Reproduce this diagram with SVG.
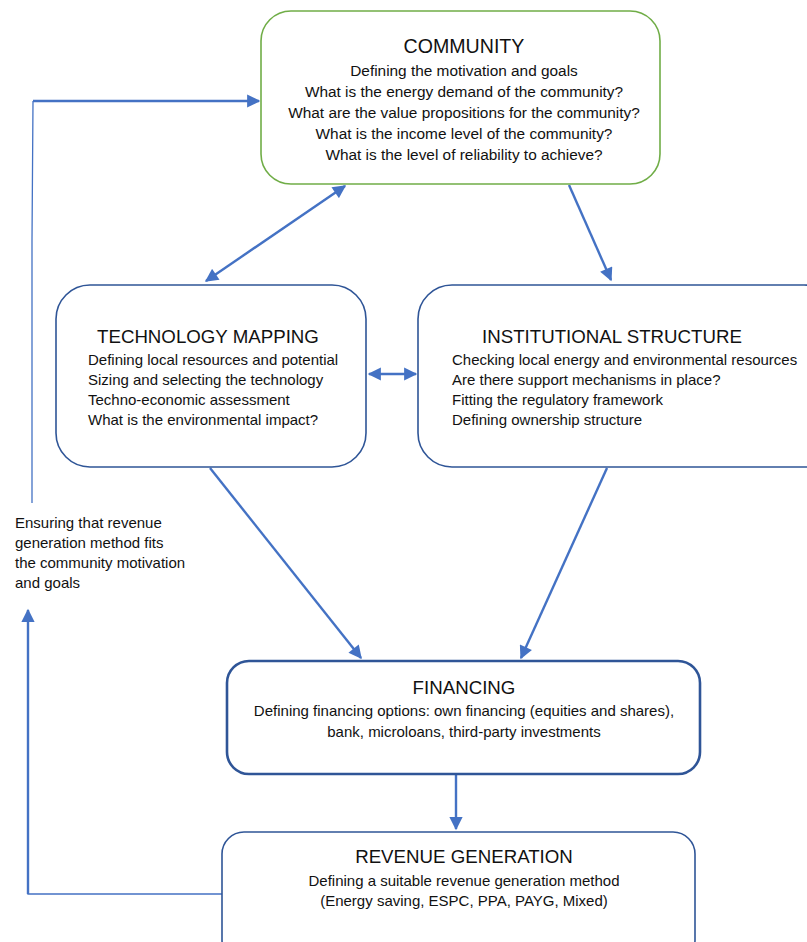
<svg xmlns="http://www.w3.org/2000/svg" width="807" height="942" viewBox="0 0 807 942">
<style>
  .box{fill:#fff;stroke:#2F5597;stroke-width:1.6}
  .t{font-family:"Liberation Sans",Arial,sans-serif;font-size:18.7px;fill:#111}
  .b{font-family:"Liberation Sans",Arial,sans-serif;font-size:15px;fill:#111}
  .cb{font-size:15.4px}
  .c{text-anchor:middle}
  .ln{stroke:#4472C4;stroke-width:2.4;fill:none}
  .thin{stroke:#4472C4;stroke-width:1.3;fill:none}
</style>
<defs>
  <marker id="ah" viewBox="0 0 10 10" refX="9" refY="5" markerWidth="6" markerHeight="5.5" orient="auto-start-reverse" markerUnits="strokeWidth">
    <path d="M0,0 L10,5 L0,10 z" fill="#4472C4"/>
  </marker>
</defs>
<g id="connectors">
  <line class="ln" x1="345" y1="186" x2="206" y2="281" marker-start="url(#ah)" marker-end="url(#ah)"/>
  <line class="ln" x1="569" y1="185" x2="611" y2="280" marker-end="url(#ah)"/>
  <line class="ln" x1="369" y1="374" x2="416" y2="374" marker-start="url(#ah)" marker-end="url(#ah)"/>
  <line class="ln" x1="210" y1="468" x2="361" y2="658" marker-end="url(#ah)"/>
  <line class="ln" x1="607" y1="468" x2="521" y2="658" marker-end="url(#ah)"/>
  <line class="ln" x1="456" y1="775" x2="456" y2="829" marker-end="url(#ah)"/>
  <polyline class="thin" points="222,894 28,894 28,840"/>
  <line class="ln" x1="28" y1="894" x2="28" y2="610" marker-end="url(#ah)"/>
  <polyline class="thin" points="32,503 32,240 33,101"/>
  <line class="ln" x1="33" y1="101" x2="259" y2="101" marker-end="url(#ah)"/>
</g>
<g id="community">
  <rect x="261" y="11" width="399" height="173" rx="30" fill="#fff" stroke="#70AD47" stroke-width="1.6"/>
  <text class="t c" x="464" y="53" style="font-size:19.6px">COMMUNITY</text>
  <text class="b cb c" x="464" y="76">Defining the motivation and goals</text>
  <text class="b cb c" x="464" y="97">What is the energy demand of the community?</text>
  <text class="b cb c" x="464" y="118">What are the value propositions for the community?</text>
  <text class="b cb c" x="464" y="139">What is the income level of the community?</text>
  <text class="b cb c" x="464" y="160">What is the level of reliability to achieve?</text>
</g>
<g id="technology">
  <rect class="box" x="56" y="285" width="310" height="182" rx="34"/>
  <text class="t" x="97" y="343">TECHNOLOGY MAPPING</text>
  <text class="b" x="88" y="365">Defining local resources and potential</text>
  <text class="b" x="88" y="385">Sizing and selecting the technology</text>
  <text class="b" x="88" y="405">Techno-economic assessment</text>
  <text class="b" x="88" y="425">What is the environmental impact?</text>
</g>
<g id="institutional">
  <rect class="box" x="418" y="285" width="420" height="182" rx="34"/>
  <text class="t" x="482" y="343">INSTITUTIONAL STRUCTURE</text>
  <text class="b" x="452" y="365">Checking local energy and environmental resources</text>
  <text class="b" x="452" y="385">Are there support mechanisms in place?</text>
  <text class="b" x="452" y="405">Fitting the regulatory framework</text>
  <text class="b" x="452" y="425">Defining ownership structure</text>
</g>
<g id="financing">
  <rect x="227" y="661" width="473" height="113" rx="22" fill="#fff" stroke="#2F5597" stroke-width="2.6"/>
  <text class="t c" x="464" y="694">FINANCING</text>
  <text class="b c" x="464" y="716">Defining financing options: own financing (equities and shares),</text>
  <text class="b c" x="464" y="737">bank, microloans, third-party investments</text>
</g>
<g id="revenue">
  <rect class="box" x="222" y="832" width="473" height="130" rx="22"/>
  <text class="t c" x="464" y="863">REVENUE GENERATION</text>
  <text class="b c" x="464" y="886">Defining a suitable revenue generation method</text>
  <text class="b c" x="464" y="906">(Energy saving, ESPC, PPA, PAYG, Mixed)</text>
</g>
<g id="loop-label">
  <text class="b" x="15" y="528">Ensuring that revenue</text>
  <text class="b" x="15" y="548">generation method fits</text>
  <text class="b" x="15" y="568">the community motivation</text>
  <text class="b" x="15" y="588">and goals</text>
</g>
</svg>
